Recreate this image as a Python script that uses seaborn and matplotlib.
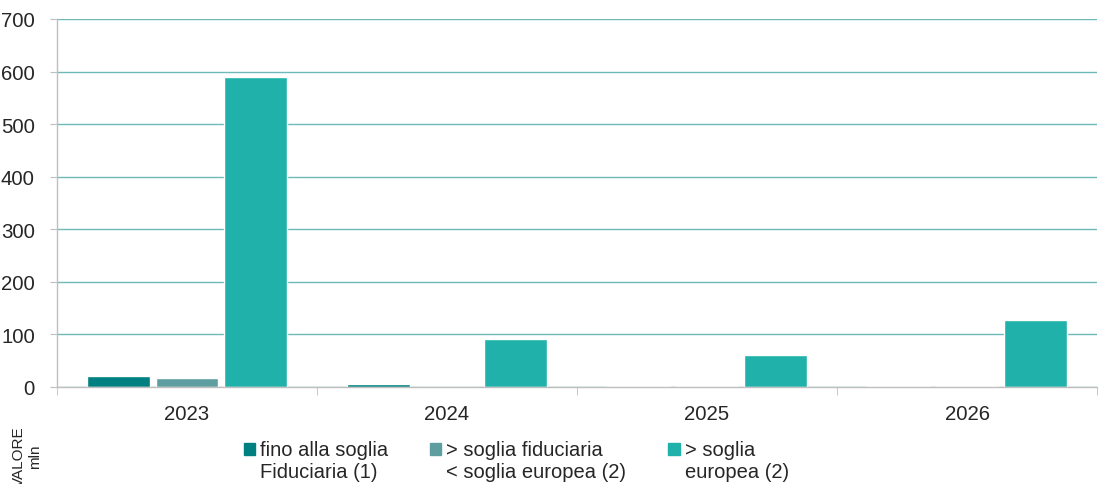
import pandas as pd
import numpy as np
import matplotlib.pyplot as plt
import matplotlib.patches as mpatches
from matplotlib.legend_handler import HandlerPatch
import seaborn as sns

# Data
anni = ["2023", "2024", "2025", "2026"]
fino_soglia_fiduciaria = [21, 5, 1, 1.5]
tra_fiduciaria_europea = [18, 0.5, 1.5, 1.5]
sopra_soglia_europea = [589, 91, 61, 127]
serie = ["fino alla soglia\nFiduciaria (1)",
         "> soglia fiduciaria\n< soglia europea (2)",
         "> soglia\neuropea (2)"]
colori = ["#008080", "#5F9EA0", "#20B2AA"]

df = pd.DataFrame({
    "anno": anni * 3,
    "valore": fino_soglia_fiduciaria + tra_fiduciaria_europea + sopra_soglia_europea,
    "serie": [serie[0]] * 4 + [serie[1]] * 4 + [serie[2]] * 4,
})

sns.set_style("white")
plt.rcParams['font.family'] = ['Liberation Sans', 'DejaVu Sans']

fig = plt.figure(figsize=(11.02, 4.85), dpi=100)
ax = fig.add_axes([0.0517, 0.2, 0.9438, 0.7588])

sns.barplot(data=df, x="anno", y="valore", hue="serie", palette=colori,
            width=0.79, gap=0.09, ax=ax, legend=False, saturation=1)

ax.set_ylim(0, 700)
ax.set_xlim(-0.5, 3.5)
ax.set_yticks(range(0, 701, 100))
ax.yaxis.grid(True, color="#6FB8B8", linewidth=1)
ax.set_axisbelow(True)
ax.set_xlabel("")
ax.set_ylabel("")

for s in ["top", "right"]:
    ax.spines[s].set_visible(False)
for s in ["left", "bottom"]:
    ax.spines[s].set_color("#BFBFBF")
    ax.spines[s].set_linewidth(1)

ax.tick_params(axis="y", left=True, length=5, color="#BFBFBF", labelsize=14.7, pad=11)
ax.tick_params(axis="x", which="major", bottom=False, labelsize=14.7, pad=9)
ax.set_xticks(np.arange(-0.5, 3.6, 1), minor=True)
ax.tick_params(axis="x", which="minor", bottom=True, length=6, color="#BFBFBF")


# square marker aligned with the first line of the label
def top_square(legend, orig_handle, xdescent, ydescent, width, height, fontsize):
    return mpatches.Rectangle((-xdescent, -ydescent + 0.58 * fontsize), width, height)


handles = [mpatches.Rectangle((0, 0), 1, 1, color=c) for c in colori]
fig.legend(handles, serie, loc="upper left", bbox_to_anchor=(0.221, 0.091),
           ncol=3, frameon=False, fontsize=14.5, handlelength=0.55, handleheight=0.55,
           handletextpad=0.25, columnspacing=2.1, borderaxespad=0, borderpad=0,
           labelspacing=0,
           handler_map={mpatches.Rectangle: HandlerPatch(patch_func=top_square)})

fig.text(0.0245, 0.0577, "VALORE\nmln", rotation=90, fontsize=11,
         ha="center", va="center", multialignment="center", linespacing=1.2)

fig.savefig("out.png", dpi=100)
